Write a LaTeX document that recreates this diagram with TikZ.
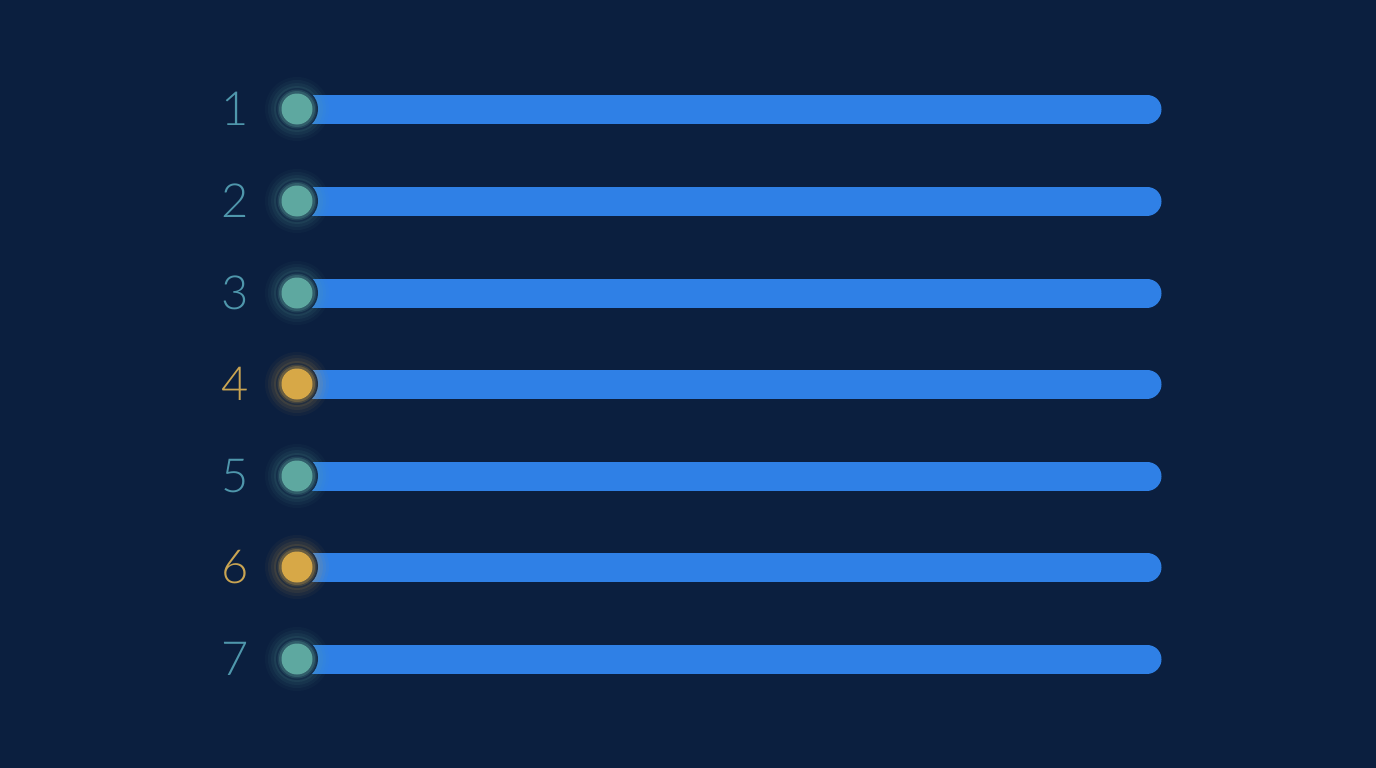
\documentclass[tikz,border=0pt]{standalone}
\usepackage{fontspec}
\IfFontExistsTF{Lato Light}{\setmainfont{Lato Light}}{\setmainfont{Lato}}
\definecolor{bg}{HTML}{0B1F3F}
\definecolor{bar}{HTML}{2F80E6}
\definecolor{tealdot}{HTML}{5EA8A0}
\definecolor{tealnum}{HTML}{4F97AC}
\definecolor{golddot}{HTML}{D7A847}
\definecolor{goldnum}{HTML}{C9A452}
\tikzset{
  num/.style={font=\fontsize{47}{47}\selectfont, anchor=center},
  barline/.style={line width=29pt, line cap=round, color=bar},
}
\newcommand{\rowitem}[4]{% index, y, dotcolor, numcolor
  \coordinate (s#1) at (297,#2);
  \coordinate (e#1) at (1147,#2);
  \draw[barline] (s#1) -- (e#1);
  \foreach \r/\o in {32/0.04,29/0.06,26/0.08,23/0.10}
    \fill[#3, opacity=\o] (s#1) circle (\r);
  \fill[bg] (s#1) circle (21);
  \foreach \r/\o in {21/0.12,19.5/0.18,18/0.25}
    \fill[#3, opacity=\o] (s#1) circle (\r);
  \node[circle, fill=#3, minimum size=31pt, inner sep=0pt] (d#1) at (s#1) {};
  \node[num, text=#4] (n#1) at (235,#2) {#1};
}
\begin{document}
\begin{tikzpicture}[x=1pt,y=-1pt]
\fill[bg] (0,0) rectangle (1376,768);
\useasboundingbox (0,0) rectangle (1376,768);
\rowitem{1}{109}{tealdot}{tealnum}
\rowitem{2}{201}{tealdot}{tealnum}
\rowitem{3}{293}{tealdot}{tealnum}
\rowitem{4}{384}{golddot}{goldnum}
\rowitem{5}{476}{tealdot}{tealnum}
\rowitem{6}{567}{golddot}{goldnum}
\rowitem{7}{659}{tealdot}{tealnum}
\end{tikzpicture}
\end{document}
